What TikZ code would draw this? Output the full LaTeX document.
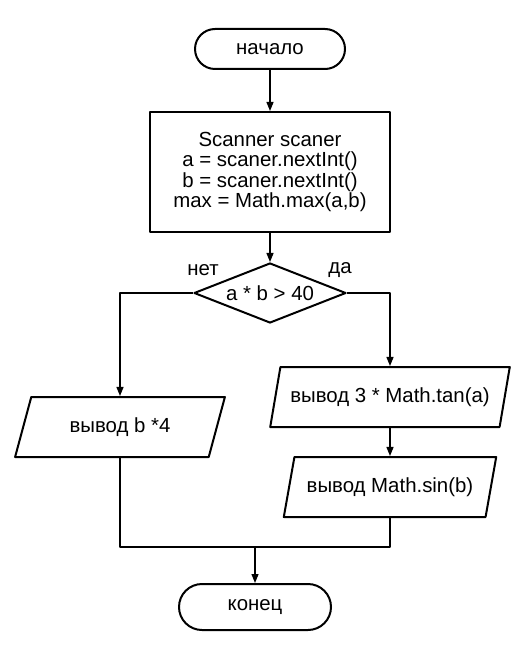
\documentclass[tikz,border=0pt]{standalone}
\usepackage{fontspec}
\setmainfont{Liberation Sans}
\usetikzlibrary{shapes.geometric,arrows.meta}
\begin{document}
\begin{tikzpicture}[x=1pt, y=-1pt, line join=round, >={Triangle[length=9pt,width=7pt]},
	font=\fontsize{20.4}{20.6}\selectfont,
	shp/.style={draw, line width=2pt, inner sep=0pt, align=center},
	term/.style={shp, rectangle, rounded corners=20pt, minimum width=150pt, minimum height=40pt},
	proc/.style={shp, rectangle, minimum width=240pt, minimum height=120pt},
	cond/.style={shp, diamond, shape aspect=2.53, minimum width=152pt, minimum height=60pt},
	io/.style={shp, trapezium, trapezium left angle=64, trapezium right angle=116, trapezium stretches=true, minimum height=60pt},
	line/.style={line width=1.2pt}]
	\useasboundingbox (0,0) rectangle (525,660);
	% blocks
	\node[term] (start) at (270,49) {начало};
	\node[proc] (init) at (270,172) {Scanner scaner\\a = scaner.nextInt()\\b = scaner.nextInt()\\max = Math.max(a,b)};
	\node[cond] (check) at (270,293) {a * b > 40};
	\node[io, minimum width=210pt] (outno) at (120,427) {вывод b *4};
	\node[io, minimum width=240pt] (outtan) at (390,397) {вывод 3 * Math.tan(a)};
	\node[io, minimum width=213pt] (outsin) at (390,487) {вывод Math.sin(b)};
	\node[term, minimum width=152pt, minimum height=46pt, rounded corners=23pt] (finish) at (255,607) {конец};
	\coordinate (merge) at (255,547);
	\node (nolbl) at (203,270) {нет};
	\node (yeslbl) at (340,270) {да};
	% connectors
	\draw[line,->] (start) -- (init);
	\draw[line,->] (init) -- (check);
	\draw[line,->] (check.west) -| (outno.north -| outno.center);
	\draw[line,->] (check.east) -| (outtan.north -| outtan.center);
	\draw[line,->] (outtan.south -| outtan.center) -- (outsin.north -| outsin.center);
	\draw[line] (outno.south -| outno.center) |- (merge);
	\draw[line] (outsin.south -| outsin.center) |- (merge);
	\draw[line,->] (merge) -- (finish);
\end{tikzpicture}
\end{document}
